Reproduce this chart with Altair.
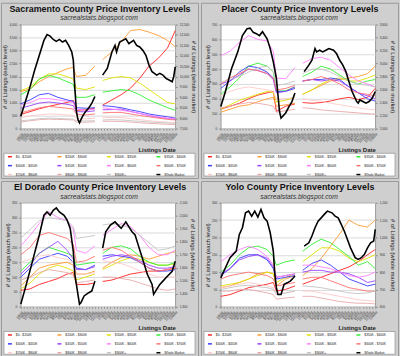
import altair as alt
import pandas as pd

FONT = "Liberation Sans"

SERIES = ["$0 - $200K", "$200K - $300K", "$300K - $350K", "$350K - $400K",
          "$400K - $450K", "$450K - $500K", "$500K - $600K", "$600K - $700K",
          "$700K - $800K", "$800K - $900K", "$900K+", "Whole Market"]
COLORS = ["#ff2020", "#ff9a30", "#e0e000", "#30ee30", "#3838ff", "#9a40ff",
          "#ff80ff", "#ff7070", "#ffc8c8", "#e8a8a8", "#c4c4c4", "#000000"]

# week index of the sampled points (two data segments with a gap)
X1 = [0, 6, 12, 18, 24, 30, 34, 36, 42, 48]
X2 = [53, 59, 65, 71, 77, 83, 89, 95, 100]

# ---------------- Sacramento ----------------
sac_0_200 = [540, 650, 760, 850, 930, 1000, 1080, 700, 720, 780, 900, 1100, 1300, 1550, 1930, 2400, 2700, 3100, 3770]
sac_200_300 = [1420, 1520, 1800, 2000, 2150, 2300, 2350, 2000, 2050, 2400, 2650, 2950, 3330, 3770, 3810, 3710, 3580, 3390, 3140]
sac_300_350 = [1450, 1600, 1900, 2100, 2100, 2000, 1900, 1550, 1500, 1600, 1850, 1950, 2000, 1950, 1750, 1500, 1250, 1000, 950]
sac_350_400 = [1300, 1500, 1900, 2050, 1950, 1800, 1700, 1200, 1200, 1300, 1400, 1450, 1500, 1450, 1300, 1100, 950, 800, 700]
sac_400_450 = [950, 1100, 1300, 1350, 1200, 1100, 1050, 800, 780, 800, 880, 850, 800, 720, 650, 560, 500, 450, 400]
sac_450_500 = [780, 880, 980, 1020, 980, 930, 880, 650, 640, 680, 720, 730, 750, 660, 580, 500, 430, 380, 350]
sac_500_600 = [900, 1000, 1150, 1150, 1100, 1050, 1000, 750, 700, 750, 800, 750, 700, 650, 580, 500, 450, 400, 380]
sac_600_700 = [600, 700, 800, 850, 820, 780, 750, 550, 520, 560, 600, 620, 620, 560, 500, 450, 400, 350, 330]
sac_700_800 = [420, 480, 530, 560, 550, 520, 500, 380, 370, 400, 420, 430, 420, 380, 340, 300, 270, 240, 230]
sac_800_900 = [250, 300, 340, 360, 350, 340, 330, 250, 240, 260, 280, 280, 270, 250, 220, 200, 180, 160, 150]
sac_900_up = [300, 330, 380, 400, 390, 370, 360, 300, 290, 300, 330, 340, 330, 300, 280, 250, 230, 210, 200]
sac_wm_x = [0, 3, 6, 9, 12, 15, 17, 19, 21, 23, 25, 27, 29, 31, 33, 34, 35, 36, 37, 38, 40, 42, 44, 46, 48,
            53, 56, 59, 61, 62, 64, 66, 68, 70, 73, 75, 77, 79, 81, 83, 85, 88, 90, 92, 94, 96, 98, 99, 100]
sac_wm = [8090, 8800, 9515, 10310, 11020, 11740, 12020, 11945, 11785, 11690, 11785, 11660, 11740, 11500, 11180,
          10785, 9435, 8325, 7930, 7770, 8090, 8325, 8485, 8720, 9040,
          10070, 10390, 11180, 11500, 11180, 11660, 11740, 11815, 11580, 11740, 11500, 11420, 11260, 11020,
          10550, 10230, 10070, 10150, 10070, 9910, 9830, 9750, 9990, 10470]

# ---------------- Placer ----------------
pla_0_200 = [130, 150, 170, 200, 225, 240, 250, 115, 150, 165, 175, 170, 175, 185, 200, 210, 195, 210, 270]
pla_200_300 = [110, 130, 150, 160, 180, 200, 210, 150, 160, 170, 230, 260, 290, 320, 330, 340, 350, 370, 420]
pla_300_350 = [130, 160, 190, 210, 230, 250, 240, 180, 190, 210, 230, 260, 300, 330, 340, 320, 320, 340, 360]
pla_350_400 = [230, 280, 340, 420, 440, 420, 380, 250, 255, 280, 350, 380, 420, 400, 360, 320, 300, 320, 330]
pla_400_450 = [270, 320, 380, 420, 410, 380, 340, 250, 250, 270, 320, 330, 330, 340, 330, 280, 240, 200, 185]
pla_450_500 = [300, 320, 360, 400, 390, 370, 330, 240, 250, 280, 320, 330, 320, 330, 320, 280, 240, 220, 200]
pla_500_600 = [490, 520, 580, 625, 600, 590, 520, 340, 335, 410, 440, 470, 480, 460, 410, 360, 320, 300, 280]
pla_600_700 = [300, 340, 370, 400, 390, 370, 340, 260, 270, 290, 320, 330, 350, 330, 300, 260, 240, 230, 220]
pla_700_800 = [220, 250, 270, 280, 270, 260, 250, 200, 200, 210, 200, 190, 185, 170, 160, 150, 140, 130, 125]
pla_800_900 = [140, 150, 165, 175, 170, 160, 150, 110, 120, 130, 140, 135, 125, 120, 115, 110, 105, 100, 95]
pla_900_up = [310, 330, 350, 380, 410, 420, 380, 290, 300, 320, 370, 400, 400, 380, 350, 320, 300, 290, 280]
pla_wm_x = [0, 3, 7, 11, 14, 17, 19, 21, 23, 25, 27, 30, 32, 34, 36, 37, 38, 39, 42, 44, 46, 48,
            54, 57, 59, 61, 62, 64, 66, 68, 70, 73, 75, 77, 79, 81, 83, 85, 88, 89, 90, 92, 94, 96, 98, 100]
pla_wm = [2340, 2570, 2925, 3180, 3430, 3535, 3545, 3480, 3460, 3430, 3490, 3380, 3230, 3025, 2770, 2520,
          2265, 2160, 2240, 2330, 2410, 2545,
          2875, 2975, 3050, 3230, 3180, 3205, 3180, 3205, 3230, 3205, 3150, 3050, 2975, 2875, 2720, 2570,
          2415, 2390, 2440, 2415, 2390, 2415, 2465, 2570]

# ---------------- El Dorado ----------------
ed_0_200 = [55, 60, 75, 85, 95, 110, 115, 75, 75, 80, 85, 90, 100, 110, 115, 120, 120, 125, 130]
ed_200_300 = [70, 100, 130, 140, 145, 150, 140, 110, 110, 120, 130, 150, 165, 175, 170, 160, 170, 180, 185]
ed_300_350 = [60, 80, 110, 130, 140, 130, 120, 90, 100, 110, 125, 140, 155, 165, 160, 150, 140, 140, 145]
ed_350_400 = [120, 150, 180, 200, 190, 180, 170, 140, 145, 150, 180, 200, 205, 195, 170, 150, 140, 140, 150]
ed_400_450 = [100, 130, 160, 170, 180, 170, 150, 130, 125, 140, 170, 175, 170, 165, 150, 130, 120, 120, 125]
ed_450_500 = [110, 140, 180, 200, 220, 190, 160, 125, 125, 135, 160, 170, 175, 170, 155, 140, 130, 130, 135]
ed_500_600 = [205, 240, 280, 320, 300, 290, 260, 190, 180, 205, 240, 260, 280, 270, 240, 200, 175, 175, 190]
ed_600_700 = [175, 200, 240, 250, 240, 230, 210, 150, 155, 170, 190, 200, 190, 170, 150, 130, 120, 125, 130]
ed_700_800 = [150, 160, 170, 175, 165, 160, 150, 110, 110, 115, 155, 150, 145, 135, 120, 110, 100, 100, 100]
ed_800_900 = [90, 100, 115, 125, 120, 115, 105, 80, 85, 90, 100, 100, 95, 90, 80, 70, 60, 55, 60]
ed_900_up = [230, 260, 290, 300, 295, 290, 270, 230, 235, 240, 275, 280, 275, 265, 240, 215, 190, 195, 205]
ed_wm_x = [0, 3, 7, 12, 15, 17, 19, 21, 23, 25, 28, 30, 32, 34, 35, 37, 38, 39, 41, 44, 46, 48,
           53, 55, 58, 61, 63, 65, 68, 70, 72, 74, 76, 78, 80, 82, 85, 86, 88, 90, 92, 94, 96, 98, 100]
ed_wm = [1320, 1447, 1624, 1852, 2004, 2029, 2004, 2042, 2060, 2029, 2004, 1966, 1903, 1725, 1548, 1396,
         1320, 1333, 1383, 1408, 1422, 1497,
         1751, 1877, 1928, 1953, 1928, 1903, 1953, 1915, 1877, 1852, 1776, 1700, 1624, 1548, 1472, 1396,
         1434, 1472, 1497, 1523, 1548, 1573, 1650]

# ---------------- Yolo ----------------
yolo_0_200 = [30, 35, 45, 55, 60, 65, 70, 45, 50, 60, 65, 75, 85, 95, 105, 115, 130, 150, 165]
yolo_200_300 = [55, 60, 70, 80, 95, 100, 95, 60, 80, 90, 90, 110, 140, 175, 210, 250, 235, 230, 250]
yolo_300_350 = [60, 65, 70, 80, 90, 100, 95, 70, 85, 95, 130, 150, 170, 170, 160, 140, 130, 140, 150]
yolo_350_400 = [100, 120, 150, 170, 175, 165, 145, 120, 130, 135, 160, 180, 195, 185, 165, 145, 120, 130, 110]
yolo_400_450 = [90, 110, 140, 150, 150, 135, 110, 80, 85, 90, 105, 125, 135, 120, 100, 80, 70, 60, 65]
yolo_450_500 = [95, 110, 135, 145, 150, 140, 115, 85, 90, 95, 100, 105, 105, 100, 100, 95, 85, 70, 75]
yolo_500_600 = [130, 150, 165, 175, 165, 145, 120, 85, 90, 95, 120, 120, 115, 110, 100, 90, 85, 90, 100]
yolo_600_700 = [80, 90, 95, 100, 95, 90, 80, 60, 65, 70, 80, 85, 85, 75, 65, 55, 50, 45, 45]
yolo_700_800 = [55, 60, 65, 70, 65, 60, 55, 35, 40, 45, 45, 45, 40, 35, 30, 25, 20, 18, 15]
yolo_800_900 = [45, 45, 50, 50, 45, 40, 35, 22, 25, 28, 30, 30, 25, 20, 15, 12, 10, 10, 8]
yolo_900_up = [50, 55, 60, 62, 58, 55, 50, 35, 40, 45, 60, 58, 55, 50, 45, 40, 38, 40, 45]
yolo_wm_x = [0, 3, 6, 10, 12, 14, 16, 18, 20, 22, 24, 26, 28, 30, 32, 34, 35, 36, 37, 39, 41, 43, 45, 47, 48,
             54, 57, 59, 61, 63, 65, 67, 69, 72, 74, 76, 78, 80, 82, 84, 87, 89, 91, 93, 95, 97, 99, 100]
yolo_wm = [767, 825, 883, 921, 1017, 1056, 1142, 1152, 1123, 1152, 1117, 1162, 1113, 1094, 1027, 921, 787,
           710, 671, 671, 729, 738, 748, 767, 777,
           950, 969, 1008, 1056, 1094, 1113, 1133, 1152, 1142, 1123, 1113, 1075, 1036, 988, 940, 883, 873,
           883, 902, 940, 969, 979, 1046]

PW, PH = 156, 105  # plot area of one panel


def panel(title, tiers, wm_x, wm_y, left_max, left_step, r_min, r_max, r_step):
    xs = X1 + X2
    rows = []
    for name, vals in zip(SERIES[:11], tiers):
        for xv, v in zip(xs, vals):
            rows.append({"idx": xv, "val": v, "series": name, "seg": 1 if xv < 50 else 2})
    df = pd.DataFrame(rows)
    wm = pd.DataFrame({"idx": wm_x, "val": wm_y})
    wm["series"] = "Whole Market"
    wm["seg"] = [1 if xv < 50 else 2 for xv in wm_x]
    one = pd.DataFrame({"k": [0]})

    legend = alt.Legend(title=None, orient="none", legendX=-14, legendY=130.5, columns=4,
                        direction="horizontal",
                        symbolType="stroke", symbolSize=16, symbolStrokeWidth=1.5,
                        labelFontSize=3.3, labelFont=FONT, labelColor="#222", labelOffset=3,
                        columnPadding=17, rowPadding=3, gridAlign="all", padding=0, zindex=1)
    color = alt.Color("series:N", scale=alt.Scale(domain=SERIES, range=COLORS), legend=legend)
    xenc = alt.X("idx:Q", scale=alt.Scale(domain=[0, 100], nice=False, zero=False),
                 axis=alt.Axis(values=list(range(0, 101, 2)),
                               labelExpr="timeFormat(datetime(2008, 0, 6 + datum.value * 7), '%-m/%-d/%y')",
                               labelAngle=-45, labelFontSize=3.2, labelOverlap=False, labelFlush=False,
                               tickSize=1.5, grid=False, title="Listings Date", titleAnchor="end",
                               titleFontSize=6, titleFontWeight="bold", titleY=18, titleBaseline="top"))
    yl = alt.Y("val:Q", scale=alt.Scale(domain=[0, left_max], nice=False),
               axis=alt.Axis(orient="left", values=list(range(0, left_max + 1, left_step)),
                             title="# of Listings (each level)", grid=True, gridColor="#dadada",
                             labelFontSize=3.2, tickSize=2, labelPadding=2, titleFontSize=6,
                             titleFontWeight="normal", titlePadding=1))
    yr = alt.Y("val:Q", scale=alt.Scale(domain=[r_min, r_max], nice=False, zero=False),
               axis=alt.Axis(orient="right", values=list(range(r_min, r_max + 1, r_step)),
                             title="# of Listings (whole market)", grid=False,
                             labelFontSize=3.2, tickSize=2, labelPadding=2, titleFontSize=6,
                             titleFontWeight="normal", titlePadding=2))

    frame = alt.Chart(one).mark_rect(fillOpacity=0, stroke="#9a9a9a", strokeWidth=1).encode(
        x=alt.value(-19.5), x2=alt.value(179.5), y=alt.value(-21.5), y2=alt.value(155.5))
    legbox = alt.Chart(one).mark_rect(fill="white", stroke="#999999", strokeWidth=0.8).encode(
        x=alt.value(-17), x2=alt.value(176), y=alt.value(130), y2=alt.value(153))
    ttl = alt.Chart(one).mark_text(text=title, font=FONT, fontSize=9, fontWeight="bold",
                                   color="#111", baseline="alphabetic").encode(
        x=alt.value(80), y=alt.value(-13))
    sub = alt.Chart(one).mark_text(text="sacrealstats.blogspot.com", font=FONT, fontSize=6.8,
                                   fontStyle="italic", color="#333", baseline="middle").encode(
        x=alt.value(79), y=alt.value(-6.3))
    lines = alt.Chart(df).mark_line(strokeWidth=0.9).encode(
        x=xenc, y=yl, color=color, detail="seg:N")
    whole = alt.Chart(wm).mark_line(strokeWidth=1.6).encode(
        x=xenc, y=yr, color=color, detail="seg:N")
    return alt.layer(frame, legbox, ttl, sub, lines, whole).resolve_scale(y="independent").properties(
        width=PW, height=PH)


p1 = panel("Sacramento County Price Inventory Levels",
           [sac_0_200, sac_200_300, sac_300_350, sac_350_400, sac_400_450, sac_450_500,
            sac_500_600, sac_600_700, sac_700_800, sac_800_900, sac_900_up],
           sac_wm_x, sac_wm, 4000, 500, 7500, 12500, 500)
p2 = panel("Placer County Price Inventory Levels",
           [pla_0_200, pla_200_300, pla_300_350, pla_350_400, pla_400_450, pla_450_500,
            pla_500_600, pla_600_700, pla_700_800, pla_800_900, pla_900_up],
           pla_wm_x, pla_wm, 700, 100, 2000, 3600, 200)
p3 = panel("El Dorado County Price Inventory Levels",
           [ed_0_200, ed_200_300, ed_300_350, ed_350_400, ed_400_450, ed_450_500,
            ed_500_600, ed_600_700, ed_700_800, ed_800_900, ed_900_up],
           ed_wm_x, ed_wm, 350, 50, 1300, 2100, 100)
p4 = panel("Yolo County Price Inventory Levels",
           [yolo_0_200, yolo_200_300, yolo_300_350, yolo_350_400, yolo_400_450, yolo_450_500,
            yolo_500_600, yolo_600_700, yolo_700_800, yolo_800_900, yolo_900_up],
           yolo_wm_x, yolo_wm, 300, 50, 600, 1200, 100)

chart = alt.concat(p1, p2, p3, p4, columns=2, spacing=0).resolve_scale(
    color="independent").resolve_legend(color="independent").configure(
    background="#cfcfcf", padding=0).configure_view(
    fill="white", stroke="#8a8a8a", strokeWidth=0.8).configure_axis(
    labelFont=FONT, titleFont=FONT, labelColor="#333", titleColor="#222",
    domain=False, tickColor="#888")

chart.save("out.html", embed_options={"renderer": "svg", "actions": False})
